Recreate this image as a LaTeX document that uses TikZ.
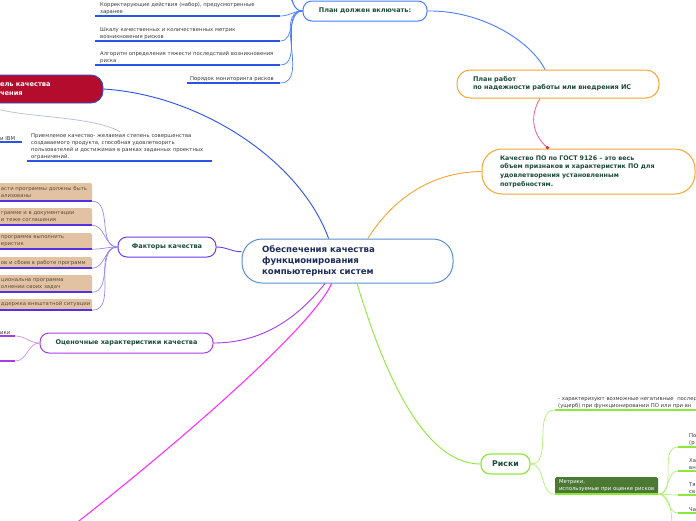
\documentclass[tikz,border=0pt]{standalone}
\usepackage{fontspec}
\setmainfont{DejaVu Sans}
\usetikzlibrary{arrows.meta,calc}
\definecolor{centerblue}{HTML}{5A8FD0}
\definecolor{navy}{HTML}{1F2D5C}
\definecolor{nodegreen}{HTML}{1B4B3A}
\definecolor{planline}{HTML}{4A7DFF}
\definecolor{ulblue}{HTML}{2C52E6}
\definecolor{orangec}{HTML}{F6A531}
\definecolor{pinkc}{HTML}{E96AA0}
\definecolor{tipred}{HTML}{E8243C}
\definecolor{crimson}{HTML}{B30C2C}
\definecolor{redborder}{HTML}{2E4FD6}
\definecolor{faintc}{HTML}{B4BCD8}
\definecolor{factpurple}{HTML}{6B3DEB}
\definecolor{factcurve}{HTML}{9A88F5}
\definecolor{factul}{HTML}{5531E6}
\definecolor{tanc}{HTML}{E1C2A3}
\definecolor{tantext}{HTML}{5C4A38}
\definecolor{evviolet}{HTML}{A63EE6}
\definecolor{evcurve}{HTML}{C893F2}
\definecolor{magc}{HTML}{FF33FF}
\definecolor{limec}{HTML}{8EE83C}
\definecolor{limecurve}{HTML}{B2EE78}
\definecolor{metgreen}{HTML}{4B7833}
\definecolor{itemtext}{HTML}{3A3A3A}
\begin{document}
\begin{tikzpicture}[x=1pt,y=-1pt,
  pill/.style={draw, line width=1pt, fill=white, font=\bfseries\fontsize{6.5}{8}\selectfont, text=nodegreen, inner sep=0pt, align=center},
  txt/.style={anchor=south west, inner ysep=1.5pt, inner xsep=3pt, align=left, font=\fontsize{5.3}{7}\selectfont, text=itemtext},
  tanbox/.style={fill=tanc, rounded corners=2pt, inner xsep=3pt, inner ysep=0pt, text width=88pt, minimum width=94pt, align=left, font=\fontsize{5.3}{7}\selectfont, text=tantext},
  ul/.style={line width=1.5pt},
  conn/.style={line width=0.9pt},
  thin/.style={line width=0.7pt}
]
\useasboundingbox (0,0) rectangle (696,520);
\clip (0,0) rectangle (696,520);
\fill[white] (0,0) rectangle (696,520);

% ---------- main nodes ----------
\node[pill, draw=centerblue, minimum width=211pt, minimum height=44pt, rounded corners=20pt,
      text width=171pt, inner xsep=20pt, align=left, text=navy,
      font=\bfseries\fontsize{8.6}{11}\selectfont] (center) at (347.5,261)
      {Обеспечения качества\\функционирования\\компьютерных систем};

\node[pill, draw=planline, minimum width=124pt, minimum height=20pt, rounded corners=9pt] (plan) at (365,11) {План должен включать:};

\node[pill, draw=orangec, minimum width=202pt, minimum height=28pt, rounded corners=13pt,
      text width=170pt, inner xsep=16pt, align=left] (pr) at (558,84)
      {План работ\\по надежности работы или внедрения ИС};

\node[pill, draw=orangec, minimum width=213pt, minimum height=45pt, rounded corners=20pt,
      text width=177pt, inner xsep=18pt, align=left, font=\bfseries\fontsize{6.3}{8.7}\selectfont] (kach) at (588.5,171.5)
      {Качество ПО по ГОСТ 9126 – это весь\\объем признаков и характеристик ПО для\\удовлетворения установленным\\потребностям.};

\node[draw=redborder, line width=0.9pt, fill=crimson, minimum width=117pt, minimum height=28pt, rounded corners=12pt,
      inner xsep=14pt, inner ysep=0pt, text width=89pt, align=left, text=white,
      font=\bfseries\fontsize{6.7}{9}\selectfont] (red) at (44.5,89) {ель качества\\чения};

\node[pill, draw=factpurple, minimum width=98pt, minimum height=20pt, rounded corners=9pt] (fact) at (167,247) {Факторы качества};

\node[pill, draw=evviolet, minimum width=173pt, minimum height=20pt, rounded corners=9pt] (ev) at (126.5,343) {Оценочные характеристики качества};

\node[pill, draw=limec, line width=1.2pt, minimum width=49pt, minimum height=20pt, rounded corners=9pt,
      font=\bfseries\fontsize{7.8}{9}\selectfont] (risk) at (505.5,464) {Риски};

% ---------- plan items ----------
\node[txt, inner xsep=5pt, text width=175pt] (k1) at (95,16) {\mbox{Корректирующие действия (набор), предусмотренные}\\заранее};
\node[txt, inner xsep=5pt, text width=175pt] (k2) at (95,41) {\mbox{Шкалу качественных и количественных метрик}\\возникновения рисков};
\node[txt, inner xsep=5pt, text width=175pt] (k3) at (95,65) {\mbox{Алгоритм определения тяжести последствий возникновения}\\риска};
\node[txt, inner xsep=3pt, text width=87pt] (k4) at (187,83) {\mbox{Порядок мониторинга рисков}};
\coordinate (kup1) at (280,-12);
\coordinate (kup2) at (280,-32);

\foreach \k in {k1,k2,k3,k4}{
  \draw[ul, ulblue] (\k.south west) -- (\k.south east);
  \draw[thin, planline] (plan.west) to[out=180,in=0] (\k.south east);
}
\draw[thin, planline] (plan.west) to[out=180,in=0] (kup1);
\draw[thin, planline] (plan.west) to[out=180,in=0] (kup2);

% ---------- red node children ----------
\node[txt, inner xsep=4pt, text width=177pt] (pri) at (27,161)
  {\mbox{Приемлемое качество- желаемая степень совершенства}\\\mbox{создаваемого продукта, способная удовлетворить}\\\mbox{пользователей и достижимая в рамках заданных проектных}\\ограничений.};
\draw[ul, ulblue] (pri.south west) -- (pri.south east);
\node[txt, inner xsep=6pt, text width=16pt] (ibm) at (-6,142) {\mbox{и IBM}};
\draw[ul, ulblue] (ibm.south west) -- (ibm.south east);
\draw[thin, faintc] (red.south west) .. controls (0,118) and (90,114) .. (pri.north);

% ---------- factor boxes ----------
\node[tanbox, minimum height=18pt] (f1) at (45,192) {\mbox{асти программы должны быть}\\\mbox{ализованы}};
\node[tanbox, minimum height=17pt] (f2) at (45,216.5) {\mbox{грамме и в документации}\\\mbox{и теже соглашения}};
\node[tanbox, minimum height=16pt] (f3) at (45,241) {\mbox{программа выполнить}\\\mbox{еристик}};
\node[tanbox, minimum height=11pt] (f4) at (45,262.5) {\mbox{ов и сбоев в работе программ}};
\node[tanbox, minimum height=17pt] (f5) at (45,283.5) {\mbox{циональна программа}\\\mbox{олнении своих задач}};
\node[tanbox, minimum height=11pt] (f6) at (45,304.5) {\mbox{ддержка внештатной ситуации}};
\foreach \f in {f1,f2,f3,f4,f5,f6}{
  \draw[ul, factul] (\f.south west) -- (\f.south east);
  \draw[thin, factcurve] (fact.west) to[out=180,in=0] (\f.south east);
}

% ---------- evaluation children ----------
\node[txt, inner xsep=3pt, text width=12pt] (ev1) at (-3,336) {\mbox{ики}};
\node[anchor=south west, inner sep=0pt, minimum width=18pt, minimum height=6pt] (ev2) at (-3,361) {};
\draw[ul, evviolet] (ev1.south west) -- (ev1.south east);
\draw[ul, evviolet] (ev2.south west) -- (ev2.south east);
\draw[thin, evcurve] (ev.west) to[out=180,in=0] (ev1.south east);
\draw[thin, evcurve] (ev.west) to[out=180,in=0] (ev2.south east);

% ---------- risks ----------
\node[txt, inner xsep=3pt, text width=160pt] (ri1) at (555,410)
  {\mbox{- характеризуют возможные негативные \ послед}\\\mbox{(ущерб) при функционировании ПО или при вн}};
\draw[ul, limec] (ri1.south west) -- (ri1.south east);

\node[fill=metgreen, rounded corners=1.5pt, minimum width=103pt, minimum height=17pt, inner xsep=4pt, inner ysep=0pt,
      text width=95pt, align=left, text=white, font=\fontsize{5.3}{6.8}\selectfont] (met) at (606.5,485.5)
      {Метрики,\\\mbox{используемые при оценке рисков}};
\draw[ul, limec] (met.south west) -- (met.south east);

\node[txt, inner xsep=11pt, text width=20pt] (ma) at (678,447) {По\\(р};
\node[txt, inner xsep=11pt, text width=20pt] (mb) at (678,471) {Ха\\вн};
\node[txt, inner xsep=11pt, text width=20pt] (mc) at (678,495) {Тя\\св};
\node[txt, inner xsep=11pt, text width=20pt] (md) at (678,513) {Ча};
\coordinate (me) at (672,530);
\foreach \m in {ma,mb,mc,md}{
  \draw[ul, limec] (\m.south west) -- (\m.south east);
  \draw[thin, limecurve] (met.south east) to[out=0,in=180] (\m.south west);
}
\draw[thin, limecurve] (met.south east) .. controls (668,494) and (672,505) .. (me);
\draw[thin, limecurve] (risk.east) to[out=0,in=180] (ri1.south west);
\draw[thin, limecurve] (risk.east) to[out=0,in=180] (met.south west);

% ---------- main connectors ----------
\draw[conn, planline] (plan.east) .. controls (480,10) and (530,40) .. ($(pr.north)+(-13,0)$);
\draw[conn, pinkc, -{Square[length=2.6pt,width=2.6pt,fill=tipred,color=tipred]}]
   ($(pr.south)+(-18,0)$) .. controls +(-12,20) and +(-14,-12) .. ($(kach.north)+(-40,0)$);
\draw[conn, orangec] (center.48) .. controls (392,200) and (430,172) .. (kach.west);
\draw[conn, ulblue] (red.east) .. controls (200,95) and (300,160) .. (center.130);
\draw[conn, factpurple] (fact.east) to[out=0,in=180] (center.175);
\draw[conn, evviolet] (ev.east) .. controls (265,343) and (300,315) .. (center.-135);
\coordinate (magend) at (70,528);
\draw[line width=1.1pt, magc] (center.-125) .. controls (310,330) and (170,450) .. (magend);
\draw[conn, limec] (center.-67) .. controls (380,360) and (420,464) .. (risk.west);
\end{tikzpicture}
\end{document}
